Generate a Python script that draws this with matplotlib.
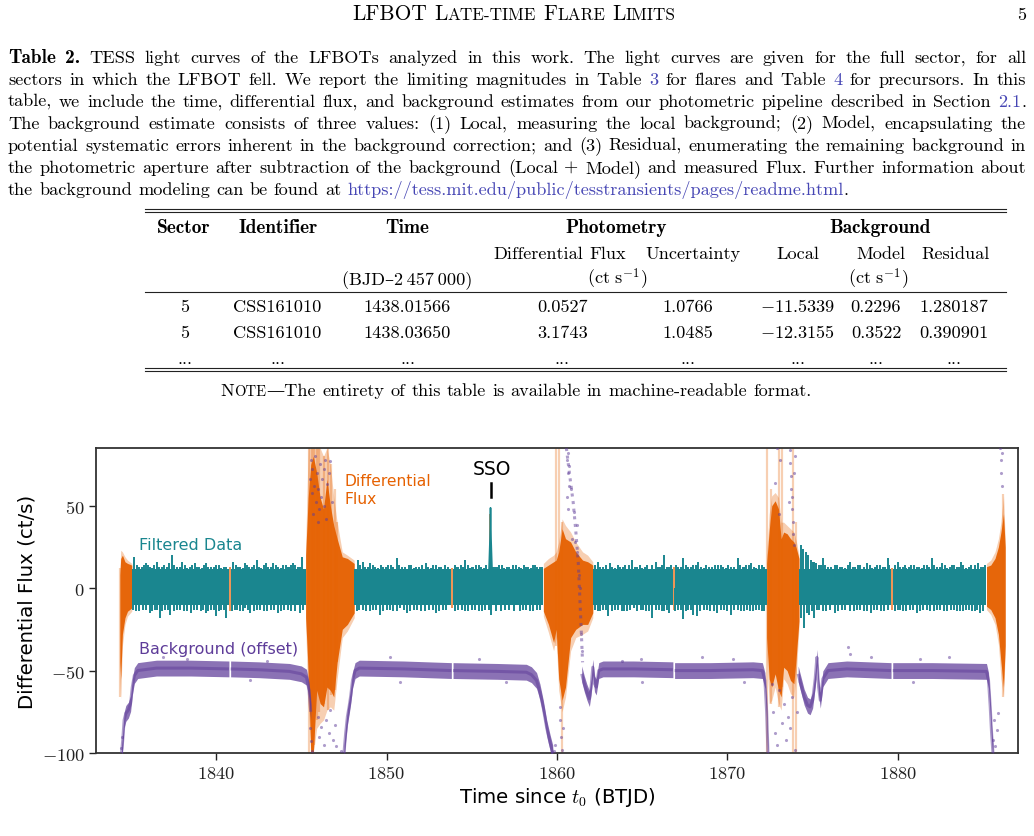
import re
import matplotlib
matplotlib.use("Agg")
import matplotlib.pyplot as plt
from matplotlib.lines import Line2D
from matplotlib.ticker import FuncFormatter, FixedLocator

# ------------------------------------------------------------------ data
PAGE_TITLE = [[("LFBOT", 0)], [("L", 0), ("ATE-TIME", 1)], [("F", 0), ("LARE", 1)], [("L", 0), ("IMITS", 1)]]
PAGE_NUMBER = "5"

CAPTION_LINES = [
    "**Table** **2.** TESS light curves of the LFBOTs analyzed in this work. The light curves are given for the full sector, for all",
    "sectors in which the LFBOT fell. We report the limiting magnitudes in Table [3] for flares and Table [4] for precursors. In this",
    "table, we include the time, differential flux, and background estimates from our photometric pipeline described in Section [2.1].",
    "The background estimate consists of three values: (1) Local, measuring the local background; (2) Model, encapsulating the",
    "potential systematic errors inherent in the background correction; and (3) Residual, enumerating the remaining background in",
    "the photometric aperture after subtraction of the background (Local + Model) and measured Flux. Further information about",
    "the background modeling can be found at [https://tess.mit.edu/public/tesstransients/pages/readme.html].",
]

TABLE_GROUP_HEADERS = ["Sector", "Identifier", "Time", "Photometry", "Background"]
TABLE_SUB_HEADERS = ["Differential Flux", "Uncertainty", "Local", "Model", "Residual"]
TABLE_UNIT_HEADERS = ["(BJD\u20132\u2009457\u2009000)", r"$(\mathrm{ct\ s}^{-1})$", r"$(\mathrm{ct\ s}^{-1})$"]
TABLE_ROW_1 = ["5", "CSS161010", "1438.01566", "0.0527", "1.0766", "$-11.5339$", "0.2296", "1.280187"]
TABLE_ROW_2 = ["5", "CSS161010", "1438.03650", "3.1743", "1.0485", "$-12.3155$", "0.3522", "0.390901"]
TABLE_ROW_3 = ["...", "...", "...", "...", "...", "...", "...", "..."]
TABLE_NOTE = "The entirety of this table is available in machine-readable format."

# light-curve axis ticks (BTJD, ct/s)
X_TICKS = [1840, 1850, 1860, 1870, 1880]
Y_TICKS = [-100, -50, 0, 50]

# filtered data (teal) segments
TEAL_START = [1835.05, 1840.85, 1848.10, 1853.90, 1862.10, 1866.90, 1874.20, 1879.70]
TEAL_END = [1840.75, 1845.25, 1853.80, 1859.20, 1866.80, 1872.30, 1879.60, 1885.20]
TEAL_LO, TEAL_HI = -10.5, 11.5
TEAL_UP = [
    (1835.2, 19), (1835.5, 13), (1835.75, 14), (1836.0, 14), (1836.25, 12), (1836.5, 16), (1836.8, 13),
    (1837.1, 13), (1837.4, 20), (1837.7, 13), (1838.0, 16), (1838.3, 12), (1838.6, 14), (1838.9, 13),
    (1839.15, 12), (1839.4, 15), (1839.7, 13), (1840.0, 14), (1840.3, 12), (1840.6, 13),
    (1841.0, 16), (1841.3, 13), (1841.55, 12), (1841.8, 14), (1842.1, 13), (1842.4, 17), (1842.65, 12),
    (1842.9, 15), (1843.2, 13), (1843.5, 14), (1843.8, 12), (1844.1, 14), (1844.3, 13), (1844.5, 15),
    (1844.8, 13), (1845.05, 19),
    (1848.3, 17), (1848.6, 16), (1848.9, 13), (1849.2, 14), (1849.5, 12), (1849.8, 13), (1850.1, 14),
    (1850.4, 13), (1850.6, 18), (1850.9, 13), (1851.3, 14), (1851.6, 12), (1851.9, 13), (1852.3, 15),
    (1852.6, 12), (1852.9, 14), (1853.2, 13), (1853.6, 13),
    (1854.1, 13), (1854.35, 14), (1854.6, 17), (1854.9, 12), (1855.1, 13), (1855.4, 14), (1855.7, 12),
    (1856.35, 13), (1856.6, 14), (1856.9, 12), (1857.2, 13), (1857.6, 14), (1857.9, 12), (1858.2, 13),
    (1858.45, 12), (1858.7, 14), (1859.0, 13),
    (1862.4, 16), (1862.7, 13), (1863.1, 15), (1863.4, 12), (1863.7, 13), (1864.0, 14), (1864.4, 17),
    (1864.7, 13), (1865.0, 12), (1865.3, 14), (1865.8, 16), (1866.05, 13), (1866.3, 20), (1866.6, 13),
    (1867.1, 13), (1867.4, 18), (1867.7, 13), (1868.0, 14), (1868.3, 16), (1868.6, 12), (1868.9, 13),
    (1869.3, 14), (1869.6, 14), (1869.9, 12), (1870.2, 13), (1870.6, 18), (1870.9, 13), (1871.1, 14),
    (1871.4, 15), (1871.7, 12), (1872.0, 14),
    (1874.3, 26), (1874.45, 24), (1874.6, 22), (1874.75, 20), (1874.9, 17), (1875.1, 16), (1875.35, 14),
    (1875.6, 18), (1875.9, 13), (1876.3, 14), (1876.6, 13), (1876.9, 12), (1877.2, 16), (1877.5, 13),
    (1877.8, 14), (1878.2, 15), (1878.5, 12), (1878.8, 14), (1879.1, 13), (1879.4, 18),
    (1880.0, 16), (1880.3, 13), (1880.5, 12), (1880.8, 14), (1881.1, 13), (1881.4, 12), (1881.7, 14),
    (1882.0, 18), (1882.3, 13), (1882.6, 15), (1882.9, 12), (1883.2, 14), (1883.45, 13), (1883.7, 16),
    (1884.0, 12), (1884.3, 14), (1884.7, 15), (1885.0, 13),
]
TEAL_UP_GRASS = [
    (1835.35, 14), (1835.62, 13), (1835.88, 15), (1836.12, 13), (1836.38, 14), (1836.65, 13), (1836.95, 14),
    (1837.25, 15), (1837.55, 14), (1837.85, 13), (1838.15, 14), (1838.45, 13), (1838.75, 15), (1839.02, 13),
    (1839.28, 14), (1839.55, 13), (1839.85, 13), (1840.15, 14), (1840.45, 13),
    (1841.15, 14), (1841.42, 13), (1841.68, 15), (1841.95, 13), (1842.25, 14), (1842.52, 13), (1842.78, 14),
    (1843.05, 13), (1843.35, 15), (1843.65, 13), (1843.95, 14), (1844.2, 13), (1844.4, 14), (1844.65, 14),
    (1844.92, 13),
    (1848.45, 14), (1848.75, 13), (1849.05, 15), (1849.35, 13), (1849.65, 14), (1849.95, 13), (1850.25, 14),
    (1850.75, 14), (1851.1, 13), (1851.45, 14), (1851.75, 13), (1852.1, 14), (1852.45, 13), (1852.75, 14),
    (1853.05, 13), (1853.4, 14),
    (1854.0, 14), (1854.22, 13), (1854.48, 13), (1854.75, 14), (1855.0, 13), (1855.25, 14), (1855.55, 13),
    (1855.85, 14), (1856.22, 13), (1856.48, 13), (1856.75, 14), (1857.05, 13), (1857.4, 14), (1857.75, 13),
    (1858.05, 14), (1858.32, 13), (1858.58, 14), (1858.85, 13), (1859.1, 13),
    (1862.25, 14), (1862.55, 13), (1862.9, 14), (1863.25, 13), (1863.55, 14), (1863.85, 13), (1864.2, 14),
    (1864.55, 13), (1864.85, 14), (1865.15, 13), (1865.55, 14), (1865.92, 13), (1866.18, 14), (1866.45, 13),
    (1866.7, 14),
    (1867.0, 14), (1867.25, 13), (1867.55, 14), (1867.85, 13), (1868.15, 14), (1868.45, 13), (1868.75, 14),
    (1869.1, 13), (1869.45, 14), (1869.75, 13), (1870.05, 14), (1870.4, 13), (1870.75, 14), (1871.0, 13),
    (1871.25, 14), (1871.55, 13), (1871.85, 14), (1872.15, 13),
    (1875.0, 16), (1875.22, 15), (1875.48, 14), (1875.75, 14), (1876.1, 13), (1876.45, 14), (1876.75, 13),
    (1877.05, 14), (1877.35, 13), (1877.65, 14), (1878.0, 13), (1878.35, 14), (1878.65, 13), (1878.95, 14),
    (1879.25, 13), (1879.5, 14),
    (1879.85, 14), (1880.15, 13), (1880.4, 14), (1880.65, 13), (1880.95, 14), (1881.25, 13), (1881.55, 14),
    (1881.85, 13), (1882.15, 14), (1882.45, 13), (1882.75, 14), (1883.05, 13), (1883.32, 14), (1883.58, 13),
    (1883.85, 14), (1884.15, 13), (1884.5, 14), (1884.85, 13), (1885.1, 14),
]
TEAL_DN = [
    (1835.3, -14), (1835.7, -13), (1836.1, -15), (1836.4, -13), (1836.7, -18), (1837.0, -13), (1837.3, -16),
    (1837.7, -13), (1838.1, -14), (1838.5, -15), (1838.9, -13), (1839.4, -15), (1839.7, -13), (1840.0, -17),
    (1840.3, -13), (1840.6, -18),
    (1841.1, -13), (1841.4, -14), (1841.7, -12), (1842.0, -15), (1842.4, -13), (1842.8, -14), (1843.2, -13),
    (1843.6, -15), (1844.0, -13), (1844.4, -14), (1844.9, -15),
    (1848.4, -13), (1848.8, -14), (1849.2, -13), (1849.6, -16), (1850.0, -13), (1850.4, -14), (1850.8, -12),
    (1851.2, -15), (1851.6, -13), (1852.0, -14), (1852.5, -13), (1852.9, -15), (1853.3, -13),
    (1854.2, -13), (1854.6, -14), (1855.0, -13), (1855.4, -14), (1855.8, -13), (1856.1, -16), (1856.7, -14),
    (1857.2, -13), (1857.8, -14), (1858.2, -13), (1858.6, -14), (1859.0, -13),
    (1862.4, -14), (1862.7, -13), (1863.0, -17), (1863.4, -13), (1863.8, -14), (1864.1, -14), (1864.5, -12),
    (1864.9, -13), (1865.2, -14), (1865.6, -18), (1866.0, -13), (1866.3, -14), (1866.6, -15),
    (1867.1, -13), (1867.4, -19), (1867.7, -13), (1868.0, -16), (1868.2, -17), (1868.6, -13), (1869.0, -14),
    (1869.4, -15), (1869.8, -13), (1870.2, -16), (1870.6, -13), (1871.0, -14), (1871.3, -14), (1871.7, -13),
    (1872.0, -14),
    (1874.3, -18), (1874.5, -24), (1874.8, -16), (1875.1, -18), (1875.4, -13), (1875.8, -14), (1876.3, -15),
    (1876.7, -13), (1877.2, -14), (1877.6, -13), (1878.0, -14), (1878.4, -15), (1878.8, -13), (1879.2, -14),
    (1880.0, -13), (1880.3, -14), (1880.7, -13), (1881.1, -15), (1881.5, -13), (1881.9, -14), (1882.3, -13),
    (1882.7, -14), (1883.1, -13), (1883.5, -14), (1883.8, -14), (1884.2, -13), (1884.5, -14), (1884.8, -15),
]
TEAL_DN_GRASS = [
    (1835.15, -13), (1835.5, -14), (1835.9, -13), (1836.25, -14), (1836.55, -13), (1836.85, -14), (1837.15, -13),
    (1837.5, -14), (1837.9, -13), (1838.3, -14), (1838.7, -13), (1839.1, -14), (1839.25, -13), (1839.55, -14),
    (1839.85, -13), (1840.15, -14), (1840.45, -13),
    (1840.95, -14), (1841.25, -13), (1841.55, -14), (1841.85, -13), (1842.2, -14), (1842.6, -13), (1843.0, -14),
    (1843.4, -13), (1843.8, -14), (1844.2, -13), (1844.6, -14), (1845.1, -13),
    (1848.25, -14), (1848.6, -13), (1849.0, -14), (1849.4, -13), (1849.8, -14), (1850.2, -13), (1850.6, -14),
    (1851.0, -13), (1851.4, -14), (1851.8, -13), (1852.25, -14), (1852.7, -13), (1853.1, -14), (1853.5, -13),
    (1854.0, -14), (1854.4, -13), (1854.8, -14), (1855.2, -13), (1855.6, -14), (1856.0, -13), (1856.4, -14),
    (1856.95, -13), (1857.5, -14), (1858.0, -13), (1858.4, -14), (1858.8, -13),
    (1862.25, -13), (1862.55, -14), (1862.85, -13), (1863.2, -14), (1863.6, -13), (1863.95, -14), (1864.3, -13),
    (1864.7, -14), (1865.05, -13), (1865.4, -14), (1865.8, -13), (1866.15, -14), (1866.45, -13),
    (1866.95, -14), (1867.25, -13), (1867.55, -14), (1867.85, -13), (1868.4, -14), (1868.8, -13), (1869.2, -14),
    (1869.6, -13), (1870.0, -14), (1870.4, -13), (1870.8, -14), (1871.15, -13), (1871.5, -14), (1871.85, -13),
    (1872.15, -14),
    (1874.65, -15), (1874.95, -14), (1875.25, -13), (1875.6, -14), (1876.0, -13), (1876.5, -14), (1876.9, -13),
    (1877.4, -14), (1877.8, -13), (1878.2, -14), (1878.6, -13), (1879.0, -14), (1879.4, -13),
    (1879.85, -14), (1880.15, -13), (1880.5, -14), (1880.9, -13), (1881.3, -14), (1881.7, -13), (1882.1, -14),
    (1882.5, -13), (1882.9, -14), (1883.3, -13), (1883.65, -14), (1884.0, -13), (1884.35, -14), (1884.65, -13),
    (1885.0, -14),
]
SSO_T = [1855.98, 1856.04, 1856.07, 1856.10, 1856.16]
SSO_UP = [11, 30, 49, 30, 11]

# differential flux (orange) regions: time, outer (error bar) envelope, inner (points) envelope
ORA_A_T = [1834.35, 1834.40, 1834.50, 1834.65, 1834.80, 1835.05]
ORA_A_OUT_UP = [10, 23, 22, 19, 17, 15]
ORA_A_OUT_LO = [-55, -67, -35, -22, -17, -14]
ORA_A_IN_UP = [8, 18, 20, 16, 15, 14]
ORA_A_IN_LO = [-45, -55, -28, -18, -14, -12]

ORA_B_T = [1845.25, 1845.40, 1845.55, 1845.70, 1845.90, 1846.10, 1846.30, 1846.50, 1846.70, 1846.90, 1847.10, 1847.40, 1847.70, 1848.10]
ORA_B_OUT_UP = [25, 85, 85, 85, 85, 85, 80, 85, 75, 55, 40, 22, 20, 17]
ORA_B_OUT_LO = [-22, -70, -100, -100, -85, -82, -80, -74, -72, -74, -55, -30, -26, -18]
ORA_B_IN_UP = [20, 55, 75, 80, 70, 55, 48, 66, 50, 38, 30, 19, 18, 15]
ORA_B_IN_LO = [-18, -50, -100, -100, -62, -70, -72, -60, -62, -66, -45, -25, -22, -15]

ORA_C_T = [1859.20, 1859.50, 1859.80, 1859.95, 1860.10, 1860.30, 1860.50, 1860.80, 1861.10, 1861.50, 1861.80, 1862.10]
ORA_C_OUT_UP = [15, 18, 20, 22, 28, 42, 38, 34, 28, 22, 20, 16]
ORA_C_OUT_LO = [-17, -27, -38, -30, -62, -75, -66, -38, -30, -28, -26, -18]
ORA_C_IN_UP = [12, 14, 16, 17, 22, 36, 30, 28, 22, 17, 16, 14]
ORA_C_IN_LO = [-14, -22, -33, -25, -55, -68, -60, -30, -25, -22, -22, -15]

ORA_D_T = [1872.30, 1872.45, 1872.60, 1872.80, 1873.00, 1873.15, 1873.30, 1873.50, 1873.70, 1873.90, 1874.05, 1874.20]
ORA_D_OUT_UP = [20, 45, 56, 58, 55, 40, 40, 38, 36, 34, 28, 20]
ORA_D_OUT_LO = [-40, -70, -68, -60, -70, -74, -55, -58, -64, -66, -50, -24]
ORA_D_IN_UP = [15, 35, 50, 53, 48, 30, 34, 33, 30, 28, 24, 18]
ORA_D_IN_LO = [-30, -55, -60, -52, -62, -66, -48, -50, -56, -58, -40, -20]

ORA_E_T = [1885.20, 1885.45, 1885.70, 1885.90, 1886.05, 1886.20, 1886.30]
ORA_E_OUT_UP = [15, 17, 22, 30, 40, 56, 30]
ORA_E_OUT_LO = [-13, -16, -22, -34, -55, -66, -40]
ORA_E_IN_UP = [13, 14, 18, 25, 34, 45, 25]
ORA_E_IN_LO = [-11, -13, -18, -28, -45, -60, -35]

# single long error bars
ORA_BAR_T = [1834.38, 1845.45, 1845.60, 1845.75, 1845.90, 1846.05, 1846.30, 1846.55, 1846.75, 1846.95, 1847.10,
             1859.93, 1860.10, 1860.30, 1872.35, 1872.55, 1873.00, 1873.20, 1873.85, 1874.05, 1886.18]
ORA_BAR_LO = [-66, -100, -100, -95, -80, -75, -70, -74, -65, -62, -45,
              -35, -40, -100, -100, -70, -72, -60, -100, -100, -66]
ORA_BAR_HI = [12, 85, 85, 85, 85, 85, 80, 85, 75, 60, 40,
              85, 85, 40, 85, 60, 85, 85, 85, 40, 57]
# orange points showing through the gaps of the filtered data
ORA_GAP_T = [1840.80, 1853.85, 1866.85, 1879.65, 1856.07]
ORA_GAP_LO = [-14, -12, -13, -13, -3]
ORA_GAP_HI = [13, 12, 13, 12, 45]

# background (purple, offset) smooth segments
PUR_1_T = [1834.45, 1834.52, 1834.60, 1834.70, 1834.85, 1834.98, 1835.08, 1835.20, 1835.40, 1836.50, 1838.50, 1840.75]
PUR_1_Y = [-100, -92, -80, -76, -74, -70, -60, -53, -50, -48.5, -48.5, -49]
PUR_2_T = [1840.85, 1842.50, 1844.30, 1845.00, 1845.30, 1845.45, 1845.55]
PUR_2_Y = [-49, -49.5, -50.5, -52, -54, -62, -75]
PUR_3_T = [1847.50, 1847.60, 1847.70, 1847.80, 1847.90, 1848.00, 1848.15, 1848.40, 1851.00, 1853.80]
PUR_3_Y = [-100, -88, -78, -72, -65, -56, -50, -48.5, -49, -50]
PUR_4_T = [1853.90, 1856.50, 1858.20, 1858.50, 1858.80, 1859.00, 1859.20, 1859.40, 1859.60, 1859.75]
PUR_4_Y = [-50, -50.5, -51, -52.5, -56, -63, -73, -85, -94, -100]
PUR_5_T = [1861.45, 1861.60, 1861.75, 1861.90, 1862.00, 1862.10, 1862.20, 1862.30, 1862.45, 1862.70, 1864.50, 1866.80]
PUR_5_Y = [-52, -58, -63, -67, -60, -48, -58, -60, -50, -49, -49, -49.5]
PUR_6_T = [1866.90, 1869.00, 1871.50, 1872.05, 1872.20, 1872.30, 1872.38]
PUR_6_Y = [-50, -50, -49.5, -50, -56, -75, -100]
PUR_7_T = [1874.15, 1874.30, 1874.50, 1874.70, 1874.85, 1875.00, 1875.15, 1875.25, 1875.35, 1875.45, 1875.60, 1875.90, 1877.00, 1879.60]
PUR_7_Y = [-52, -58, -66, -71, -72, -68, -55, -42, -60, -68, -55, -50, -49, -50]
PUR_8_T = [1879.70, 1882.00, 1885.20, 1885.32, 1885.42, 1885.50, 1885.58]
PUR_8_Y = [-50, -50, -50.5, -56, -72, -88, -100]

# background streak coming back from above the plot
PUR_STREAK_T = [1860.55, 1860.75, 1860.95, 1861.10, 1861.25, 1861.40, 1861.50]
PUR_STREAK_Y = [85, 68, 52, 35, 15, -20, -45]

# scattered background points
PUR_SCATTER = [
    (1834.40, -97), (1834.45, -90),
    (1845.50, -85), (1845.55, -93), (1845.60, -99), (1845.50, 66), (1845.55, 78), (1845.60, 58), (1845.65, 72),
    (1845.70, 45), (1845.75, 62), (1845.80, 80), (1845.85, 52), (1845.90, 70), (1845.95, 40), (1846.00, 60),
    (1846.05, 48), (1846.10, 75), (1846.15, 55), (1846.20, 66), (1846.30, 50), (1846.35, 72), (1846.40, 78),
    (1846.45, 42), (1846.50, 63), (1846.60, 70), (1846.70, 77), (1846.80, 52), (1845.95, -78), (1846.05, -90),
    (1846.15, -84), (1846.30, -95), (1846.45, -80), (1846.60, -88), (1846.70, -74), (1846.85, -92),
    (1846.95, -83), (1847.05, -96), (1847.30, -99),
    (1859.80, -99), (1859.90, -95), (1860.15, -72), (1860.20, -80), (1860.25, -90), (1860.30, -98), (1860.35, -85),
    (1860.60, 78), (1860.62, 70), (1860.65, 82), (1860.70, 74), (1860.72, 62), (1860.60, 55), (1860.65, 48),
    (1860.85, 60), (1860.90, 30), (1861.00, 46), (1861.05, 28), (1861.15, 38), (1861.20, 22), (1861.30, 8),
    (1861.35, 0), (1861.42, -28), (1861.46, -38),
    (1872.80, 64), (1872.90, 85), (1873.10, 78), (1873.00, 45), (1873.65, 84), (1873.70, 76), (1873.72, 68),
    (1873.75, 60), (1873.78, 55), (1873.80, 48), (1873.83, 40), (1873.85, 33), (1873.88, 26), (1873.90, 70),
    (1873.95, 80), (1873.60, 52), (1872.60, -58), (1872.70, -75), (1872.80, -88), (1872.90, -95),
    (1873.05, -62), (1873.20, -82), (1873.30, -70), (1873.45, -92), (1873.55, -78), (1873.70, -85),
    (1873.80, -66), (1873.95, -98), (1874.10, -75),
    (1885.60, -92), (1885.65, -80), (1885.70, -96), (1885.80, -86), (1885.90, -76), (1886.00, 85),
    (1886.05, 78), (1886.08, 70), (1886.10, 82), (1886.12, 62),
    (1836.9, -42), (1838.3, -43), (1843.0, -44), (1850.2, -42), (1855.4, -43), (1863.8, -44), (1864.9, -43),
    (1868.5, -42), (1870.3, -43), (1877.1, -36), (1877.2, -40), (1878.4, -42), (1881.3, -43), (1883.0, -42),
    (1857.0, -57), (1865.0, -57), (1871.0, -57), (1842.0, -56), (1850.8, -57), (1880.9, -57),
]

# ------------------------------------------------------------------ style
W, H = 1034, 837
TEAL = '#1a868f'
ORANGE = '#e66101'
PURPLE = '#5e3c99'
LINK = '#4646b4'
SC = 0.80

plt.rcParams['mathtext.fontset'] = 'cm'
plt.rcParams['font.family'] = ['DejaVu Sans']

fig = plt.figure(figsize=(W / 100, H / 100), dpi=100)
fig.patch.set_facecolor('white')
R = fig.canvas.get_renderer()

FAM = {'r': ['cmr10', 'DejaVu Serif'], 'b': ['cmb10', 'DejaVu Serif'], 'l': ['cmr10', 'DejaVu Serif']}
COL = {'r': 'black', 'b': 'black', 'l': LINK}
BOLD_SCALE = 1.06


def mk(s, style, size, small=False):
    fs = size * (SC if small else 1) * (BOLD_SCALE if style == 'b' else 1)
    return fig.text(0, 0, s, fontsize=fs, family=FAM[style], color=COL[style], ha='left', va='baseline')


def parse_word(w):
    pieces = []
    for p in re.split(r'(\*\*.*?\*\*|\[.*?\])', w):
        if not p:
            continue
        if p.startswith('**'):
            pieces.append((p[2:-2], 'b', False))
        elif p.startswith('['):
            pieces.append((p[1:-1], 'l', False))
        else:
            pieces.append((p, 'r', False))
    return pieces


def place(words, y, size, x0=None, x1=None, center=None, right=None, justify=False, measure=False):
    built = []
    for w in words:
        arts = []
        for s, st, sm in w:
            t = mk(s, st, size, sm)
            arts.append((t, t.get_window_extent(R).width))
        built.append(arts)
    wws = [sum(a[1] for a in b) for b in built]
    sp = size * 100 / 72 * 0.333
    gap = (x1 - x0 - sum(wws)) / (len(words) - 1) if justify else sp
    total = sum(wws) + gap * (len(words) - 1)
    if measure:
        for b in built:
            for t, _ in b:
                t.remove()
        return total
    if center is not None:
        x = center - total / 2
    elif right is not None:
        x = right - total
    else:
        x = x0
    for b, ww in zip(built, wws):
        xx = x
        for t, w in b:
            t.set_position((xx / W, 1 - y / H))
            xx += w
        x += ww + gap
    return total


def words_of(text, style='r'):
    if text.startswith('$'):
        return [[(text, style, False)]]
    return [[(w, style, False)] for w in text.split(' ')]


def hline(y, x0, x1, lw=0.8):
    fig.add_artist(Line2D([x0 / W, x1 / W], [1 - y / H, 1 - y / H], color='#222222', lw=lw))


# ---------------------------------------------------------------- caption
cap_words = [[parse_word(w) for w in line.split(' ')] for line in CAPTION_LINES]
nat = place(cap_words[-1], 0, 10, x0=0, measure=True)
FS = 10 * 844 / nat
for i, line in enumerate(cap_words):
    y = 63 + 22 * i
    if i < len(cap_words) - 1:
        place(line, y, FS, x0=8, x1=1026, justify=True)
    else:
        place(line, y, FS, x0=8)

# ---------------------------------------------------------------- page header
title_words = [[(s, 'r', bool(sm)) for s, sm in w] for w in PAGE_TITLE]
tw = place(title_words, 0, 10, x0=0, measure=True)
place(title_words, 20, 10 * 322 / tw, center=514)
place([[(PAGE_NUMBER, 'r', False)]], 20, FS, right=1026)

# ---------------------------------------------------------------- table
hline(209.5, 145, 1006)
hline(212.5, 145, 1006)
hline(292.5, 145, 1006)
hline(368.5, 145, 1006)
hline(371.5, 145, 1006)

GROUP_X = [184, 278, 407.5, 616, 880.5]
SUB_X = [560, 692.5, 798, 880.5, 956]
UNIT_X = [407.5, 617, 878]
COL_X = [185, 277.5, 407.5, 562.5, 688, 797.5, 876, 954]

for s, x in zip(TABLE_GROUP_HEADERS, GROUP_X):
    place(words_of(s, 'b'), 233, FS, center=x)
for s, x in zip(TABLE_SUB_HEADERS, SUB_X):
    place(words_of(s), 259, FS, center=x)
for s, x in zip(TABLE_UNIT_HEADERS, UNIT_X):
    place(words_of(s), 285, FS, center=x)
for row, y in zip([TABLE_ROW_1, TABLE_ROW_2, TABLE_ROW_3], [312, 338, 364]):
    for s, x in zip(row, COL_X):
        place([[(s, 'r', False)]], y, FS, center=x)

note_words = [[("N", 'r', False), ("OTE", 'r', True), ("\u2014The", 'r', False)]] + \
    [[(w, 'r', False)] for w in TABLE_NOTE.split(' ')[1:]]
place(note_words, 396, FS, center=516)

# ---------------------------------------------------------------- light curve
ax = fig.add_axes([96 / W, 1 - 754 / H, 922 / W, 305 / H])
ax.set_xlim(1832.95, 1887.05)
ax.set_ylim(-100, 85)

orange_regions = [
    (ORA_A_T, ORA_A_OUT_LO, ORA_A_OUT_UP, ORA_A_IN_LO, ORA_A_IN_UP),
    (ORA_B_T, ORA_B_OUT_LO, ORA_B_OUT_UP, ORA_B_IN_LO, ORA_B_IN_UP),
    (ORA_C_T, ORA_C_OUT_LO, ORA_C_OUT_UP, ORA_C_IN_LO, ORA_C_IN_UP),
    (ORA_D_T, ORA_D_OUT_LO, ORA_D_OUT_UP, ORA_D_IN_LO, ORA_D_IN_UP),
    (ORA_E_T, ORA_E_OUT_LO, ORA_E_OUT_UP, ORA_E_IN_LO, ORA_E_IN_UP),
]
for t, olo, oup, ilo, iup in orange_regions:
    ax.fill_between(t, olo, oup, color=ORANGE, alpha=0.30, lw=0, zorder=1)
    ax.fill_between(t, ilo, iup, color=ORANGE, alpha=0.95, lw=0, zorder=2)
ax.vlines(ORA_BAR_T, ORA_BAR_LO, ORA_BAR_HI, color=ORANGE, alpha=0.3, lw=1.6, zorder=1)
ax.vlines(ORA_GAP_T, ORA_GAP_LO, ORA_GAP_HI, color=ORANGE, alpha=0.8, lw=1.2, zorder=2)

purple_segments = [(PUR_1_T, PUR_1_Y), (PUR_2_T, PUR_2_Y), (PUR_3_T, PUR_3_Y), (PUR_4_T, PUR_4_Y),
                   (PUR_5_T, PUR_5_Y), (PUR_6_T, PUR_6_Y), (PUR_7_T, PUR_7_Y), (PUR_8_T, PUR_8_Y)]
for t, y in purple_segments:
    ax.fill_between(t, [v - 4.8 for v in y], [v + 4.8 for v in y], color=PURPLE, alpha=0.72, lw=0, zorder=3)
    ax.plot(t, y, color=PURPLE, lw=2.2, alpha=0.5, zorder=3, solid_capstyle='butt')
ax.plot(PUR_STREAK_T, PUR_STREAK_Y, color=PURPLE, lw=2.2, ls=(0, (1, 1.5)), alpha=0.5, zorder=3)
ax.scatter([p[0] for p in PUR_SCATTER], [p[1] for p in PUR_SCATTER], s=5, color=PURPLE,
           alpha=0.5, lw=0, zorder=3)

for a, b in zip(TEAL_START, TEAL_END):
    ax.fill_between([a, b], TEAL_LO, TEAL_HI, color=TEAL, lw=0, zorder=4)
for spikes in (TEAL_UP, TEAL_UP_GRASS):
    ax.vlines([p[0] for p in spikes], 0, [p[1] for p in spikes], color=TEAL, lw=1.4, zorder=4)
for spikes in (TEAL_DN, TEAL_DN_GRASS):
    ax.vlines([p[0] for p in spikes], [p[1] for p in spikes], 0, color=TEAL, lw=1.4, zorder=4)
ax.fill_between(SSO_T, 0, SSO_UP, color=TEAL, edgecolor=TEAL, lw=1.2, zorder=4)

# annotations
ax.text(1835.45, 26.7, "Filtered Data", color=TEAL, fontsize=11.5, ha='left', va='center', zorder=6)
ax.text(1847.55, 60.0, "Differential\nFlux", color=ORANGE, fontsize=11.2, ha='left', va='center',
        linespacing=1.25, zorder=6)
ax.text(1835.45, -36.4, "Background (offset)", color=PURPLE, fontsize=11.5, ha='left', va='center', zorder=6)
ax.text(1856.2, 72.5, "SSO", color='black', fontsize=13.5, ha='center', va='center', zorder=6)
ax.plot([1856.12, 1856.12], [55.5, 64.0], color='black', lw=1.8, zorder=6)

# axes styling
ax.xaxis.set_major_locator(FixedLocator(X_TICKS))
ax.yaxis.set_major_locator(FixedLocator(Y_TICKS))
ax.xaxis.set_major_formatter(FuncFormatter(lambda v, p: r'$%d$' % round(v)))
ax.yaxis.set_major_formatter(FuncFormatter(lambda v, p: r'$%d$' % round(v)))
ax.tick_params(axis='both', which='major', direction='out', length=5, width=1.0, labelsize=13.3,
               colors='#222222', pad=3)
for sp in ax.spines.values():
    sp.set_color('#333333')
    sp.set_linewidth(1.3)
ax.set_ylabel("Differential Flux (ct/s)", fontsize=14.2, labelpad=4)
ax.set_xlabel(r"Time since $t_0$ (BTJD)", fontsize=14.2, labelpad=2)

fig.savefig("out.png", dpi=100, facecolor='white')
